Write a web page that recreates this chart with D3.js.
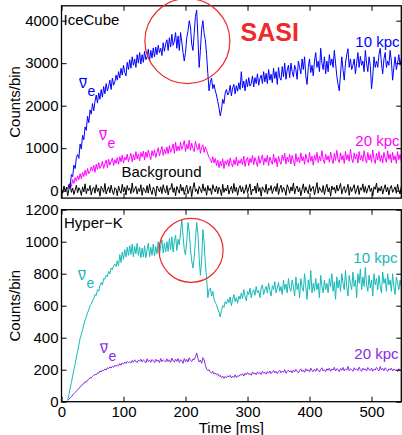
<!DOCTYPE html>
<html>
<head>
<meta charset="utf-8">
<script src="https://cdn.jsdelivr.net/npm/d3@7"></script>
<style>
    body { margin: 0; background: #fff; }
    svg text { font-family: "Liberation Sans", Arial, Helvetica, sans-serif; }
</style>
</head>
<body>
<div id="chart"></div>
<script>

// time bins [ms]
const binWidth = 2;
const timeSignal = d3.range(10, 551, binWidth);      // 10 .. 550
const timeBackground = d3.range(0, 549, binWidth);   // 0 .. 548

const xTicks = [0, 100, 200, 300, 400, 500];
const iceTicks = [0, 1000, 2000, 3000, 4000];
const hyperTicks = [0, 200, 400, 600, 800, 1000, 1200];

// IceCube, 10 kpc, counts/bin
const ice10 = [
    30, 150, 120, 380, 330, 600, 520, 780, 850, 760,
    1100, 980, 1300, 1200, 1500, 1420, 1750, 1600, 1900, 1800,
    2050, 1880, 2100, 2250, 2060, 2300, 2150, 2380, 2200, 2450,
    2280, 2520, 2350, 2460, 2600, 2380, 2650, 2480, 2560, 2720,
    2600, 2800, 2650, 2880, 2720, 2950, 2780, 2700, 3020, 2850,
    3080, 2880, 3150, 2950, 3100, 2900, 3200, 3000, 3250, 2980,
    3200, 3020, 3280, 3080, 3150, 3330, 3050, 3300, 3120, 3360,
    3150, 3380, 3200, 3420, 3250, 3350, 3180, 3480, 3280, 3450,
    3550, 3300, 3600, 3380, 3680, 3420, 3520, 3720, 3350, 3640,
    3300, 3720, 3500, 3250, 3050, 3250, 3600, 3750, 4000, 3850,
    3450, 3300, 3700, 4100, 4250, 3600, 2900, 3300, 3800, 4000,
    3700, 3550, 3200, 2750, 2350, 2550, 2650, 2400, 2500, 2350,
    2250, 2100, 1950, 1760, 1900, 2150, 2050, 2300, 2380, 2250,
    2300, 2480, 2230, 2420, 2500, 2280, 2470, 2340, 2540, 2380,
    2800, 2420, 2580, 2350, 2620, 2440, 2660, 2460, 2520, 2700,
    2440, 2660, 2520, 2750, 2480, 2640, 2720, 2520, 2800, 2560,
    2760, 2520, 2850, 2600, 2740, 2540, 2880, 2640, 2800, 2500,
    2900, 2660, 2600, 2920, 2680, 3000, 2620, 2840, 2950, 2660,
    3000, 2800, 2680, 2950, 2850, 2620, 3050, 2900, 2750, 3100,
    2850, 3150, 2700, 2500, 2900, 3100, 2780, 2950, 2700, 3050,
    3250, 2900, 3050, 2800, 3350, 3000, 2850, 3150, 2750, 3050,
    2800, 3200, 2950, 3100, 2900, 3300, 3000, 2700, 2500, 2350,
    2750, 3150, 2850, 2600, 3000, 3200, 3340, 2900, 3100, 2850,
    2950, 3100, 2750, 3000, 3250, 2900, 3160, 2950, 3050, 2800,
    3300, 3000, 2800, 3150, 2950, 2400, 2700, 3150, 2900, 3050,
    2900, 3200, 3350, 3000, 2750, 3100, 3250, 2900, 3050, 2950,
    3300, 3050, 2600, 2900, 3150, 2850, 3000, 3200, 2950, 3100,
    2950
];
// IceCube, 20 kpc
const ice20 = [
    50, 120, 180, 100, 260, 170, 310, 220, 350, 260,
    400, 280, 430, 330, 480, 360, 520, 400, 450, 560,
    470, 600, 430, 620, 500, 660, 520, 580, 690, 520,
    630, 720, 540, 740, 600, 680, 770, 590, 730, 640,
    780, 620, 800, 680, 840, 650, 790, 720, 860, 680,
    780, 880, 680, 850, 720, 920, 750, 860, 700, 900,
    790, 930, 720, 910, 780, 960, 820, 730, 940, 820,
    960, 780, 900, 1010, 820, 940, 1040, 830, 970, 870,
    1030, 870, 1060, 900, 980, 1100, 880, 1140, 930, 1050,
    940, 1140, 970, 1060, 1180, 920, 1090, 980, 1190, 950,
    1120, 990, 920, 1160, 1030, 960, 1110, 880, 1020, 1080,
    900, 1030, 950, 860, 780, 740, 660, 800, 650, 760,
    590, 720, 540, 690, 580, 750, 520, 700, 610, 730,
    570, 770, 640, 560, 730, 610, 790, 580, 710, 640,
    750, 610, 810, 570, 720, 780, 590, 760, 660, 830,
    610, 780, 680, 570, 820, 640, 740, 840, 600, 770,
    670, 830, 590, 790, 700, 620, 860, 660, 770, 560,
    810, 690, 620, 840, 710, 880, 630, 790, 680, 850,
    630, 830, 710, 580, 870, 680, 790, 650, 890, 700,
    800, 620, 860, 730, 660, 900, 690, 810, 600, 840,
    710, 900, 660, 810, 700, 940, 740, 640, 860, 720,
    820, 670, 910, 750, 640, 880, 710, 950, 740, 660,
    890, 720, 830, 640, 920, 730, 850, 690, 980, 750,
    660, 890, 740, 860, 650, 920, 720, 830, 690, 940,
    760, 650, 900, 720, 850, 670, 960, 740, 640, 880,
    720, 920, 690, 830, 650, 900, 760, 670, 940, 740,
    860, 660, 900, 720, 820, 640, 920, 730, 850, 690,
    800
];
// IceCube, background
const iceBackground = [
    40, -60, 110, -20, 80, -120, 30, 150, -40, 60,
    -90, 20, 130, -50, 70, 10, -110, 90, -30, 160,
    -70, 50, 0, 120, -100, 40, 80, -60, 140, -20,
    60, -130, 100, 30, -40, 170, -80, 20, 90, -50,
    130, -10, -90, 70, 40, -120, 110, 0, -60, 150,
    -30, 80, -100, 120, 10, 60, -70, 180, -40, 30,
    100, -80, 50, -20, 140, -110, 70, 20, -50, 120,
    -60, 160, 0, -90, 80, 30, -130, 110, 50, -30,
    90, -70, 140, 10, -50, 120, -100, 60, 30, 170,
    -40, 70, -120, 100, 20, -60, 150, -10, 80, -90,
    50, 130, -70, 20, 110, -140, 60, 190, -20, 40,
    -80, 100, 30, -50, 160, -10, 70, -110, 120, 0,
    60, -90, 140, 40, -30, 110, -70, 80, 20, -120,
    150, -40, 60, -10, 130, -80, 30, 100, -60, 170,
    -20, 80, -110, 50, 120, -30, 90, -70, 10, 140,
    -50, 60, 160, -100, 40, 0, 110, -60, 180, -20,
    70, -130, 90, 30, -40, 150, -80, 60, 10, 120,
    -70, 40, 100, -20, 170, -90, 50, 130, -40, 80,
    20, -110, 140, 60, -60, 90, -10, 180, -80, 50,
    110, -30, 70, -120, 30, 160, -50, 90, 0, -70,
    140, -20, 60, 100, -100, 40, 190, -60, 80, 10,
    -40, 120, -90, 50, 150, -30, 70, -130, 110, 20,
    80, -60, 130, -10, 60, 170, -80, 40, 100, -50,
    30, 150, -110, 90, -20, 60, 140, -70, 20, 120,
    -90, 70, 10, 160, -40, 100, -60, 50, 130, -20,
    60, -120, 90, 30, 180, -50, 70, -10, 110, -80,
    40, 140, -30, 80, -100, 60, 120, -40, 20, 90,
    -60, 150, 10, -80, 100
];

// Hyper-K, 10 kpc
const hyper10 = [
    10, 45, 85, 120, 160, 200, 235, 280, 315, 355,
    395, 420, 450, 480, 510, 530, 555, 575, 600, 610,
    630, 645, 670, 665, 700, 690, 725, 745, 730, 770,
    765, 790, 780, 815, 800, 835, 825, 850, 860, 845,
    880, 850, 920, 870, 935, 890, 950, 905, 965, 915,
    975, 920, 985, 905, 970, 925, 990, 915, 965, 900,
    960, 905, 975, 900, 950, 990, 905, 965, 915, 985,
    910, 970, 925, 1000, 915, 975, 1010, 930, 990, 935,
    1000, 940, 1020, 950, 1030, 935, 1005, 1040, 945, 1015,
    980, 1060, 1135, 1040, 950, 917, 1000, 1120, 1060, 950,
    880, 835, 900, 1010, 1120, 1050, 900, 790, 880, 1075,
    1000, 860, 775, 650, 700, 710, 660, 690, 640, 620,
    605, 580, 560, 530, 570, 600, 590, 625, 610, 640,
    620, 655, 600, 640, 670, 625, 650, 615, 660, 640,
    680, 645, 700, 660, 630, 690, 670, 710, 650, 685,
    700, 665, 720, 680, 695, 650, 710, 730, 670, 700,
    720, 680, 740, 695, 660, 725, 700, 750, 680, 710,
    745, 690, 720, 670, 760, 700, 735, 680, 770, 710,
    690, 760, 720, 660, 780, 700, 740, 650, 770, 715,
    690, 800, 720, 640, 760, 700, 820, 680, 740, 690,
    770, 700, 740, 650, 790, 720, 680, 760, 700, 740,
    680, 770, 720, 800, 690, 750, 640, 780, 710, 760,
    690, 800, 740, 700, 820, 720, 660, 790, 740, 700,
    810, 720, 760, 650, 800, 740, 830, 700, 780, 720,
    840, 730, 690, 790, 710, 760, 660, 800, 730, 770,
    700, 790, 720, 680, 810, 740, 770, 690, 800, 730,
    760, 690, 800, 720, 670, 780, 740, 700, 760, 720,
    690
];
// Hyper-K, 20 kpc
const hyper20 = [
    8, 15, 25, 30, 42, 50, 58, 66, 75, 82,
    93, 98, 110, 112, 125, 122, 135, 140, 150, 148,
    158, 165, 170, 168, 180, 178, 192, 186, 198, 195,
    205, 198, 212, 206, 218, 210, 222, 215, 228, 220,
    230, 224, 238, 228, 242, 235, 248, 238, 252, 244,
    250, 242, 258, 246, 262, 250, 245, 260, 252, 266,
    248, 262, 255, 242, 268, 250, 260, 246, 264, 255,
    245, 266, 252, 260, 244, 270, 250, 262, 256, 248,
    268, 250, 262, 245, 272, 255, 248, 266, 252, 270,
    245, 262, 258, 240, 270, 250, 265, 248, 275, 258,
    250, 268, 262, 280, 305, 270, 248, 260, 240, 275,
    262, 230, 205, 195, 200, 185, 178, 190, 172, 180,
    168, 175, 158, 165, 150, 160, 145, 158, 150, 162,
    155, 165, 148, 160, 152, 168, 150, 162, 158, 170,
    165, 175, 160, 178, 168, 182, 170, 176, 165, 185,
    172, 180, 168, 186, 175, 182, 170, 190, 178, 184,
    172, 188, 178, 192, 175, 185, 195, 180, 190, 176,
    188, 196, 180, 192, 184, 200, 178, 190, 198, 185,
    194, 180, 198, 186, 202, 190, 180, 196, 205, 188,
    198, 184, 206, 192, 200, 186, 210, 194, 188, 204,
    190, 208, 196, 186, 202, 212, 192, 200, 188, 206,
    196, 210, 190, 204, 198, 215, 192, 206, 200, 188,
    208, 196, 214, 192, 204, 198, 220, 194, 206, 200,
    190, 212, 198, 206, 194, 216, 200, 190, 210, 198,
    206, 192, 214, 200, 196, 210, 190, 204, 198, 215,
    200, 192, 220, 198, 208, 194, 212, 200, 190, 206,
    198, 210, 192, 204, 196, 200, 188, 206, 194, 200,
    196
];

const blue = "#0000ff", magenta = "#ff00ff", teal = "#17b8b8", purple = "#8a2be2", red = "#ee2a2a";

let width = 402, height = 435;
let svg = d3.select("#chart").append("svg")
    .attr("width", width)
    .attr("height", height);

let x = d3.scaleLinear().domain([0, 548]).range([61.5, 401.3]);
let yIce = d3.scaleLinear().domain([-175, 4350]).range([198.1, 5.8]);
let yHyper = d3.scaleLinear().domain([0, 1200]).range([401.7, 209.7]);

function drawPanel(id, y, yTicks, showX, series) {
    let g = svg.append("g").attr("id", id);
    let bottom = y.range()[0], top = y.range()[1];
    let left = x.range()[0], right = x.range()[1];

    g.append("clipPath").attr("id", "clip-" + id)
        .append("rect")
        .attr("x", left).attr("y", top)
        .attr("width", right - left).attr("height", bottom - top);

    let lines = g.append("g").attr("clip-path", "url(#clip-" + id + ")");
    series.forEach(function (s) {
        let line = d3.line()
            .x((d, i) => x(s.time[i]))
            .y(d => y(d));
        lines.append("path")
            .datum(s.values)
            .attr("d", line)
            .attr("fill", "none")
            .attr("stroke", s.color)
            .attr("stroke-width", 1)
            .attr("stroke-linejoin", "round");
    });

    let axes = [
        g.append("g").attr("transform", "translate(0," + bottom + ")")
            .call(d3.axisBottom(x).tickValues(xTicks).tickSizeInner(-5).tickSizeOuter(0).tickPadding(4.5)
                .tickFormat(showX ? d3.format("d") : "")),
        g.append("g").attr("transform", "translate(0," + top + ")")
            .call(d3.axisTop(x).tickValues(xTicks).tickSizeInner(-5).tickSizeOuter(0).tickFormat("")),
        g.append("g").attr("transform", "translate(" + left + ",0)")
            .call(d3.axisLeft(y).tickValues(yTicks).tickSizeInner(-5).tickSizeOuter(0).tickPadding(3)
                .tickFormat(d3.format("d"))),
        g.append("g").attr("transform", "translate(" + right + ",0)")
            .call(d3.axisRight(y).tickValues(yTicks).tickSizeInner(-5).tickSizeOuter(0).tickFormat(""))
    ];
    axes.forEach(function (a) {
        a.select(".domain").remove();
        a.selectAll("text").attr("font-size", 15).attr("fill", "#000")
            .attr("font-family", "Liberation Sans, Arial, sans-serif");
        a.selectAll("line").attr("stroke", "#000");
    });

    g.append("rect")
        .attr("x", left).attr("y", top)
        .attr("width", right - left).attr("height", bottom - top)
        .attr("fill", "none")
        .attr("stroke", "#000")
        .attr("stroke-width", 1.3);

    g.append("text")
        .attr("transform", "rotate(-90)")
        .attr("x", -(top + bottom) / 2)
        .attr("y", 20)
        .attr("text-anchor", "middle")
        .attr("font-size", 15)
        .text("Counts/bin");

    return g;
}

function label(g, txt, px, py, color, anchor) {
    g.append("text")
        .attr("x", px).attr("y", py)
        .attr("fill", color)
        .attr("font-size", 15)
        .attr("text-anchor", anchor || "start")
        .text(txt);
}

// anti electron neutrino symbol
function nuBar(g, px, py, color) {
    g.append("text").attr("x", px).attr("y", py)
        .attr("fill", color).attr("font-size", 16).text("ν");
    g.append("text").attr("x", px + 8.5).attr("y", py + 8)
        .attr("fill", color).attr("font-size", 14).text("e");
    g.append("line")
        .attr("x1", px + 0.5).attr("x2", px + 8)
        .attr("y1", py - 9.5).attr("y2", py - 9.5)
        .attr("stroke", color).attr("stroke-width", 1.1);
}

function circle(g, cx, cy, r) {
    g.append("circle")
        .attr("cx", cx).attr("cy", cy).attr("r", r)
        .attr("fill", "none")
        .attr("stroke", red)
        .attr("stroke-width", 1.2);
}

// top panel
let gIce = drawPanel("ice", yIce, iceTicks, false, [
    {time: timeBackground, values: iceBackground, color: "#000"},
    {time: timeSignal, values: ice20, color: magenta},
    {time: timeSignal, values: ice10, color: blue}
]);
label(gIce, "IceCube", 63.5, 25, "#000");
label(gIce, "10 kpc", 399.5, 46.5, blue, "end");
label(gIce, "20 kpc", 399.5, 145.5, magenta, "end");
label(gIce, "Background", 121.5, 176.5, "#000");
nuBar(gIce, 79, 88, blue);
nuBar(gIce, 99, 140, magenta);
circle(gIce, x(203), yIce(3520), 42.5);
gIce.append("text")
    .attr("x", 240.5).attr("y", 40.5)
    .attr("fill", red)
    .attr("font-size", 25)
    .attr("font-weight", "bold")
    .text("SASI");

// bottom panel
let gHyper = drawPanel("hyper", yHyper, hyperTicks, true, [
    {time: timeSignal, values: hyper20, color: purple},
    {time: timeSignal, values: hyper10, color: teal}
]);
label(gHyper, "Hyper\u2212K", 64, 228.3, "#000");
label(gHyper, "10 kpc", 397.5, 263, teal, "end");
label(gHyper, "20 kpc", 398.5, 359, purple, "end");
nuBar(gHyper, 78, 280, teal);
nuBar(gHyper, 100, 353.3, purple);
circle(gHyper, x(209), yHyper(946), 32);

svg.append("text")
    .attr("x", (x.range()[0] + x.range()[1]) / 2)
    .attr("y", 432.5)
    .attr("text-anchor", "middle")
    .attr("font-size", 15)
    .text("Time [ms]");

</script>
</body>
</html>
